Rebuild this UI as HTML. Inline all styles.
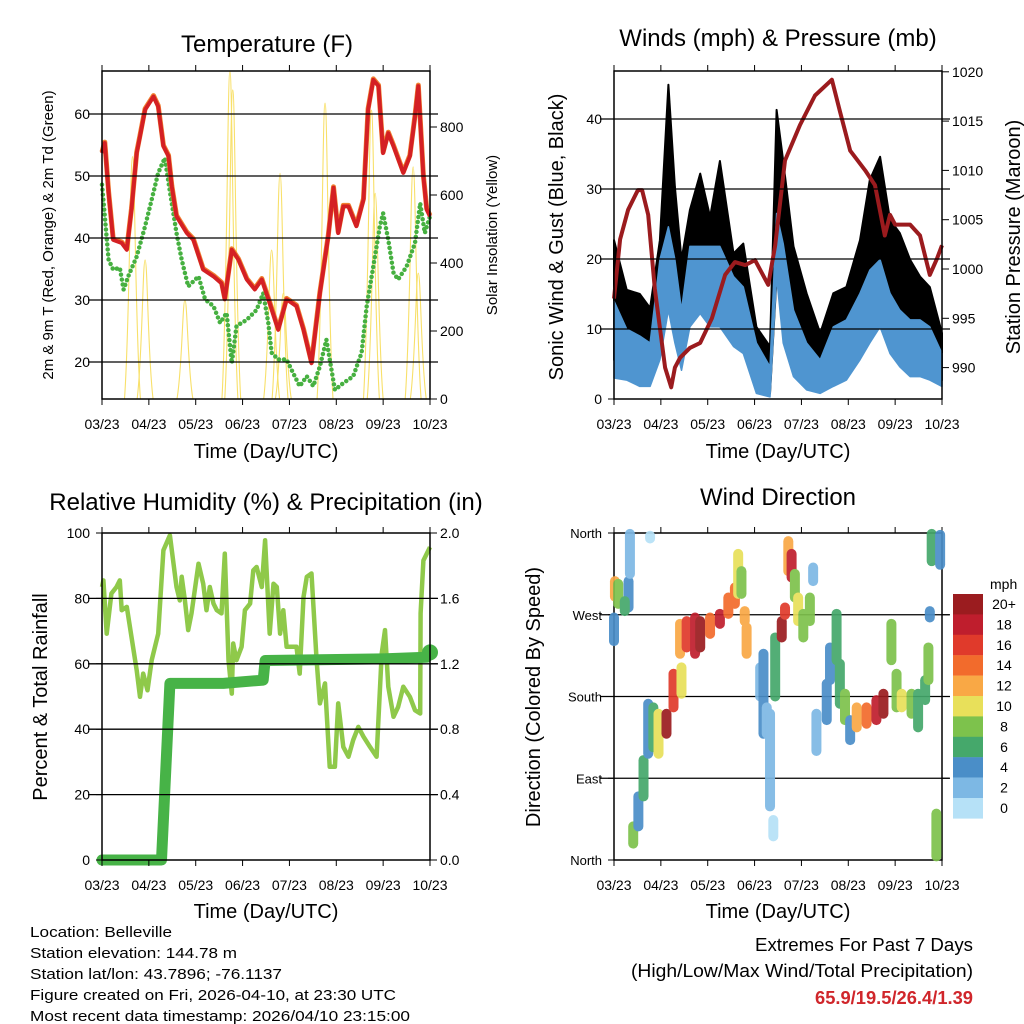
<!DOCTYPE html>
<html><head><meta charset="utf-8"><style>
html,body{margin:0;padding:0;background:#fff}
svg{display:block;font-family:"Liberation Sans",sans-serif}
</style></head><body>
<svg id="chart" width="1024" height="1024" viewBox="0 0 1024 1024">
<rect x="0" y="0" width="1024" height="1024" fill="#fff"/>
<text x="267" y="52" font-size="24" text-anchor="middle">Temperature (F)</text>
<text x="778" y="46" font-size="24" text-anchor="middle">Winds (mph) &amp; Pressure (mb)</text>
<text x="266" y="510" font-size="24" text-anchor="middle">Relative Humidity (%) &amp; Precipitation (in)</text>
<text x="778" y="505" font-size="24" text-anchor="middle">Wind Direction</text>
<text x="266" y="458" font-size="20" text-anchor="middle">Time (Day/UTC)</text>
<text x="778" y="458" font-size="20" text-anchor="middle">Time (Day/UTC)</text>
<text x="266" y="918" font-size="20" text-anchor="middle">Time (Day/UTC)</text>
<text x="778" y="918" font-size="20" text-anchor="middle">Time (Day/UTC)</text>
<text transform="translate(53,235) rotate(-90)" font-size="15" text-anchor="middle">2m &amp; 9m T (Red, Orange) &amp; 2m Td (Green)</text>
<text transform="translate(497,235) rotate(-90)" font-size="15" text-anchor="middle">Solar Insolation (Yellow)</text>
<text transform="translate(563,237) rotate(-90)" font-size="20" text-anchor="middle">Sonic Wind &amp; Gust (Blue, Black)</text>
<text transform="translate(1020,237) rotate(-90)" font-size="20" text-anchor="middle">Station Pressure (Maroon)</text>
<text transform="translate(47,697) rotate(-90)" font-size="20" text-anchor="middle">Percent &amp; Total Rainfall</text>
<text transform="translate(540,697) rotate(-90)" font-size="20" text-anchor="middle">Direction (Colored By Speed)</text>
<g font-size="15">
<text x="30" y="937" textLength="142" lengthAdjust="spacingAndGlyphs">Location: Belleville</text>
<text x="30" y="958" textLength="207" lengthAdjust="spacingAndGlyphs">Station elevation: 144.78 m</text>
<text x="30" y="979" textLength="252" lengthAdjust="spacingAndGlyphs">Station lat/lon: 43.7896; -76.1137</text>
<text x="30" y="1000" textLength="366" lengthAdjust="spacingAndGlyphs">Figure created on Fri, 2026-04-10, at 23:30 UTC</text>
<text x="30" y="1021" textLength="380" lengthAdjust="spacingAndGlyphs">Most recent data timestamp: 2026/04/10 23:15:00</text>
</g>
<g font-size="18">
<text x="755" y="951" textLength="218" lengthAdjust="spacingAndGlyphs">Extremes For Past 7 Days</text>
<text x="631" y="977" textLength="342" lengthAdjust="spacingAndGlyphs">(High/Low/Max Wind/Total Precipitation)</text>
<text x="815" y="1004" textLength="158" lengthAdjust="spacingAndGlyphs" fill="#d0262b" font-weight="bold">65.9/19.5/26.4/1.39</text>
</g>
</svg>
<script>
// ---- data ----
const xTickLabels=['03/23','04/23','05/23','06/23','07/23','08/23','09/23','10/23'];
const tempT=[0,0.06,0.14,0.24,0.42,0.53,0.63,0.74,0.81,0.92,1.1,1.2,1.31,1.42,1.49,1.59,1.81,1.95,2.16,2.38,2.55,2.62,2.77,2.91,3.09,3.26,3.41,3.58,3.76,3.94,4.15,4.3,4.47,4.65,4.83,4.94,5.04,5.15,5.26,5.43,5.58,5.68,5.79,5.9,6.0,6.11,6.22,6.43,6.57,6.68,6.75,6.86,6.93,7];
const tempV=[53.7,55.3,47.3,39.7,39.2,38.1,44.6,53.7,56.4,60.7,62.8,61.2,54.8,53.2,48.3,43.5,40.8,39.7,34.9,33.8,32.7,30.1,38.1,36.5,33.3,31.7,33.3,29.5,25.2,30.1,29,25.2,19.8,31.1,40.3,48.1,40.8,45.1,45.1,41.9,46.2,60.7,65.5,64.5,53.7,56.9,54.8,50.5,53.2,59.6,64.5,49.9,44.6,43.5];
const dewT=[0,0.14,0.24,0.38,0.46,0.56,0.74,0.92,1.06,1.2,1.34,1.45,1.59,1.7,1.84,2.06,2.2,2.38,2.52,2.66,2.77,2.87,3.09,3.3,3.44,3.55,3.62,3.76,3.94,4.08,4.22,4.37,4.51,4.65,4.79,4.97,5.15,5.36,5.54,5.65,5.79,5.93,6.0,6.11,6.22,6.32,6.5,6.68,6.79,6.89,7];
const dewV=[48.6,36.5,34.9,35.2,31.7,33.8,37,41.9,46.2,50.5,52.9,47.5,40.8,36.5,32.2,33.8,30.1,29,26.3,27.9,19.8,25.8,26.8,28.4,31.1,26.3,21.5,20.4,20.4,18.2,16.1,17.7,16.1,19.3,23.6,15.5,16.6,17.7,21.5,29,35.4,41.9,44,39.7,34.4,33.3,35.4,39.2,45.6,40.8,43.5];
const solarT=[0.65,0.92,1.77,2.73,2.79,3.62,3.8,3.87,4.76,5.75,5.83,6.64,6.75];
const solarV=[713,409,291,963,909,438,664,311,870,850,605,683,370];
const windT=[0,0.27,0.55,0.77,0.98,1.16,1.3,1.44,1.62,1.84,2.05,2.26,2.55,2.76,3.04,3.33,3.47,3.61,3.83,4.11,4.4,4.68,4.96,5.25,5.46,5.68,5.89,6.1,6.32,6.53,6.74,7];
const gustHi=[22.7,15.6,15,13,22.7,44.9,30.3,19.9,27,32.2,26,34,20.8,22.2,10.3,7.5,41.3,34,21.8,15.1,9.4,15.1,16,22.7,31.3,34.6,25.6,23.7,19.9,17.5,16,9.4];
const gustLo=[5.6,6.5,5.6,5.6,10.3,17.5,9.4,6.5,15.1,19.9,15.1,18.9,11.3,10.3,2.7,0.8,17.5,17.5,8,5.6,3.7,5.6,6.5,10.3,15.1,18,12.2,10.3,5.6,5.6,5.6,2.7];
const windHi=[14,10,9,8,19.9,24.6,19.9,12.7,21.8,21.8,21.8,21.8,17.5,16,8,4.6,26.5,22.2,12.7,8,5.6,10.3,11.3,15.1,18.4,19.9,15.1,12.7,11.3,11.3,10.3,6.5];
const windLo=[3,2.7,1.8,1.8,5.6,12.7,8,4.1,10.3,12.2,10.3,10.3,7.5,6.5,0.8,0.3,17.5,8,3.2,1.3,0.8,1.8,2.7,5.6,8,10.3,6.5,4.6,3.2,3.2,2.7,1.8];
const presT=[0,0.13,0.3,0.51,0.6,0.73,0.87,1.09,1.22,1.3,1.41,1.62,1.84,2.09,2.37,2.58,2.8,3.01,3.29,3.44,3.65,3.97,4.29,4.65,4.82,5.04,5.36,5.57,5.78,5.89,6.0,6.32,6.53,6.74,6.89,7];
const presV=[997,1003,1006,1008,1008,1005.5,998,990,988,990,991,992,992.5,995,999.4,1000.7,1000.4,1000.9,998.4,1002.4,1011,1014.6,1017.6,1019.2,1016,1012,1010,1008.5,1003.4,1005.5,1004.5,1004.5,1003.4,999.4,1001,1002.4];
const rhT=[0,0.03,0.1,0.2,0.31,0.38,0.42,0.53,0.63,0.74,0.81,0.88,0.97,1.06,1.2,1.31,1.45,1.59,1.66,1.7,1.77,1.84,1.91,2.06,2.16,2.23,2.3,2.38,2.45,2.55,2.62,2.7,2.77,2.8,2.87,2.98,3.05,3.16,3.23,3.3,3.41,3.48,3.58,3.66,3.73,3.8,3.87,3.94,4.05,4.15,4.22,4.3,4.37,4.47,4.58,4.65,4.76,4.86,4.97,5.04,5.15,5.26,5.36,5.47,5.58,5.72,5.86,5.97,6.04,6.11,6.22,6.32,6.43,6.57,6.68,6.79,6.8,6.86,7];
const rhV=[83.5,85.5,69.2,81.5,83.5,85.5,76.4,77.4,68.2,58,49.9,57,51.9,61.1,69.2,94.7,99.3,83.5,79.4,86.6,79.4,70.3,75.4,90.6,84.5,76.4,83.5,78.4,76.4,75.4,93.7,61.1,50.9,66.2,61.1,65.2,76.4,78.4,88.6,89.6,83.5,97.8,69.2,84.5,83.5,69.2,76.4,65.2,65.2,65.2,57,80.4,86.6,87.6,61.1,47.9,54,28.5,28.5,47.9,34.6,31.6,36.7,40.7,37.7,34.6,31.6,63.1,70.3,53,43.8,46.8,53,49.9,45.8,44.8,75.4,91.6,95.7];
const precipT=[0,1.27,1.45,2.59,3.44,3.48,5.99,6.93,7];
const precipV=[0,0,1.08,1.08,1.1,1.22,1.23,1.24,1.27];
const dirT=[0.02,0.09,0.31,0.23,0,0.34,0.77,0.41,0.52,0.63,0.73,0.84,0.95,1.12,1.27,1.44,1.41,1.55,1.73,1.84,2.05,2.26,2.44,2.58,2.65,2.72,2.79,2.83,3.12,3.19,3.26,3.33,3.4,3.44,3.58,3.65,3.72,3.79,3.86,3.93,4.04,4.18,4.25,4.32,4.54,4.61,4.75,4.82,4.93,5.04,5.18,5.39,5.6,5.75,5.92,6.03,6.14,6.35,6.49,6.64,6.71,6.74,6.78,6.88,6.96];
const dirLo=[290,282,278,274,241,315,354,18,37,70,117,124,117,139,168,183,227,234,227,234,249,260,271,282,293,293,263,227,180,139,139,59,26,180,245,270,318,311,289,263,245,263,307,120,154,198,220,172,154,132,146,150,154,161,220,168,168,161,146,176,198,267,329,4,325];
const dirHi=[307,304,307,285,267,359,357,37,70,110,172,168,161,161,205,212,260,263,267,263,267,271,289,300,337,318,274,256,212,227,168,161,44,245,263,278,351,337,315,289,271,289,322,161,194,234,271,216,183,154,168,168,176,183,260,205,183,183,183,198,234,274,359,51,358];
const dirSpd=[12,8,4,7,5,3,1,8,5,6,4,6,10,20,17,10,12,16,19,20,15,18,15,14,10,8,13,12,3,4,3,2,0,7,20,17,12,18,8,10,8,8,2,2,4,5,6,6,8,5,12,14,18,20,8,8,11,9,6,7,8,4,6,8,4];
const speedLabels=['20+','18','16','14','12','10','8','6','4','2','0'];
const speedColors=['#9b1c1f','#bf1e2d','#e03a2b','#f26b2c','#f9a845','#e8e05a','#7dc24c','#45a86b','#4a8ec8','#7db8e4','#b6e1f7'];

// ---- helpers ----
const NS='http://www.w3.org/2000/svg';
const svg=document.getElementById('chart');
function mk(tag,attrs,parent){const e=document.createElementNS(NS,tag);for(const k in attrs)e.setAttribute(k,attrs[k]);(parent||svg).appendChild(e);return e;}
const P1={x0:102,x1:430,y0:71,y1:399},P2={x0:614,x1:942,y0:71,y1:399},P3={x0:102,x1:430,y0:533,y1:860},P4={x0:614,x1:942,y0:533,y1:860};
function xs(p,t){return p.x0+t*(p.x1-p.x0)/7;}
const yTemp=v=>362-(v-20)*6.2, ySolar=v=>399-v*0.34;
const yWind=v=>399-v*7.0, yPres=v=>269-(v-1000)*9.86;
const yRH=v=>860-v*3.27, yPr=v=>860-v*163.5;
const yDir=v=>860-v*327/360;
function speedColor(s){const i=Math.min(10,Math.max(0,10-Math.floor(s/2)));return speedColors[i];}
function pts(p,T,V,yf){return T.map((t,i)=>xs(p,t).toFixed(1)+','+yf(V[i]).toFixed(1)).join(' ');}

function frame(p,name,leftTicks,leftFn,leftLabels,rightTicks,rightFn,rightLabels,grid){
  const g=mk('g',{});
  
  
  grid.forEach(v=>{
    const l=mk('line',{x1:p.x0-14,x2:p.x1+8,y1:leftFn(v),y2:leftFn(v),stroke:'#000','stroke-width':1.3},g);
    
    
  });
  leftTicks.forEach((v,i)=>{
    const y=leftFn(v);
    const tk=mk('line',{x1:p.x0-6,x2:p.x0,y1:y,y2:y,stroke:'#000','stroke-width':1},g);
    
    
    const tx=mk('text',{x:p.x0-12,y:y+5,'font-size':(name==='direction'?13:14),'text-anchor':'end'},g);
    tx.textContent=leftLabels[i];
    
    
  });
  rightTicks.forEach((v,i)=>{
    const y=rightFn(v);
    const tk=mk('line',{x1:p.x1,x2:p.x1+7,y1:y,y2:y,stroke:'#000','stroke-width':1},g);
    
    
    if(rightLabels){
      const tx=mk('text',{x:p.x1+10,y:y+5,'font-size':14},g);
      tx.textContent=rightLabels[i];
      
      
    }
  });
  xTickLabels.forEach((lab,i)=>{
    const x=xs(p,i);
    const tb=mk('line',{x1:x,x2:x,y1:p.y1,y2:p.y1+6,stroke:'#000','stroke-width':1},g);
    
    
    const tt=mk('line',{x1:x,x2:x,y1:p.y0-6,y2:p.y0,stroke:'#000','stroke-width':1},g);
    
    
    const tx=mk('text',{x:x,y:p.y1+30,'font-size':14,'text-anchor':'middle'},g);
    tx.textContent=lab;
    
    
  });
  const b=mk('rect',{x:p.x0,y:p.y0,width:p.x1-p.x0,height:p.y1-p.y0,fill:'none',stroke:'#000','stroke-width':1.5},g);
  
  
}

// ---- Panel 1: temperature ----
{
  const p=P1;
  const g=mk('g',{});
  
  
  solarT.forEach((t,i)=>{
    const w=0.17;
    const d='M'+xs(p,t-w)+','+ySolar(0)+' C'+xs(p,t-w*0.35)+','+ySolar(solarV[i]*0.3)+' '+xs(p,t-w*0.3)+','+ySolar(solarV[i])+' '+xs(p,t)+','+ySolar(solarV[i])+' S'+xs(p,t+w*0.35)+','+ySolar(solarV[i]*0.3)+' '+xs(p,t+w)+','+ySolar(0);
    const s=mk('path',{d:d,fill:'none',stroke:'#f8e06a','stroke-width':1.1},g);
    
    
  });
  const dew=mk('polyline',{points:pts(p,dewT,dewV,yTemp),fill:'none',stroke:'#46b040','stroke-width':4.5,'stroke-dasharray':'0 5','stroke-linecap':'round','stroke-linejoin':'round'},g);
  
  
  const o=mk('polyline',{points:pts(p,tempT,tempV,v=>yTemp(v)-1),fill:'none',stroke:'#f08030','stroke-width':5,'stroke-linejoin':'round'},g);
  
  
  const r=mk('polyline',{points:pts(p,tempT,tempV,yTemp),fill:'none',stroke:'#d42024','stroke-width':4,'stroke-linejoin':'round'},g);
  
  
  frame(p,'temperature',[20,30,40,50,60],yTemp,['20','30','40','50','60'],[0,200,400,600,800],ySolar,['0','200','400','600','800'],[20,30,40,50,60]);
}
// ---- Panel 2: winds ----
{
  const p=P2;
  const g=mk('g',{});
  
  
  const gust=mk('polygon',{points:pts(p,windT,gustHi,yWind)+' '+pts(p,windT.slice().reverse(),gustLo.slice().reverse(),yWind),fill:'#000',stroke:'#000','stroke-width':2,'stroke-linejoin':'round'},g);
  
  
  const wind=mk('polygon',{points:pts(p,windT,windHi,yWind)+' '+pts(p,windT.slice().reverse(),windLo.slice().reverse(),yWind),fill:'#4f95d0',stroke:'#4f95d0','stroke-width':1.5,'stroke-linejoin':'round'},g);
  
  
  const pr=mk('polyline',{points:pts(p,presT,presV,yPres),fill:'none',stroke:'#9b1b1e','stroke-width':4,'stroke-linejoin':'round'},g);
  
  
  frame(p,'winds',[0,10,20,30,40],yWind,['0','10','20','30','40'],[990,995,1000,1005,1010,1015,1020],yPres,['990','995','1000','1005','1010','1015','1020'],[10,20,30,40]);
}
// ---- Panel 3: humidity ----
{
  const p=P3;
  const g=mk('g',{});
  
  
  frame(p,'humidity',[0,20,40,60,80,100],yRH,['0','20','40','60','80','100'],[0,0.4,0.8,1.2,1.6,2.0],v=>yPr(v),['0.0','0.4','0.8','1.2','1.6','2.0'],[20,40,60,80]);
  const rh=mk('polyline',{points:pts(p,rhT,rhV,yRH),fill:'none',stroke:'#8fc94a','stroke-width':4.5,'stroke-linejoin':'round'},g);
  
  
  const pc=mk('polyline',{points:pts(p,precipT,precipV,yPr),fill:'none',stroke:'#47b347','stroke-width':11,'stroke-linejoin':'round','stroke-linecap':'round'},g);
  
  
  const last=precipT.length-1;
  const m=mk('circle',{cx:xs(p,precipT[last]),cy:yPr(precipV[last]),r:8,fill:'#47b347'},g);
  
  
}
// ---- Panel 4: wind direction ----
{
  const p=P4;
  frame(p,'direction',[0,90,180,270,360],yDir,['North','East','South','West','North'],[90,180,270],yDir,null,[90,180,270]);
  const g=mk('g',{opacity:0.92});
  
  
  dirT.forEach((t,i)=>{
    const x=xs(p,t);
    const s=mk('line',{x1:x,x2:x,y1:yDir(dirLo[i]),y2:yDir(dirHi[i]),stroke:speedColor(dirSpd[i]),'stroke-width':10,'stroke-linecap':'round'},g);
    
    
  });
  const lg=mk('g',{});
  
  
  const lt=mk('text',{x:990,y:589,'font-size':14},lg);
  lt.textContent='mph';
  
  
  speedLabels.forEach((lab,i)=>{
    const y=594+i*20.4;
    const r=mk('rect',{x:953,y:y,width:30,height:20.6,fill:speedColors[i]},lg);
    
    
    const tx=mk('text',{x:1004,y:y+15,'font-size':14,'text-anchor':'middle'},lg);
    tx.textContent=lab;
    
    
  });
}
</script>
</body></html>
